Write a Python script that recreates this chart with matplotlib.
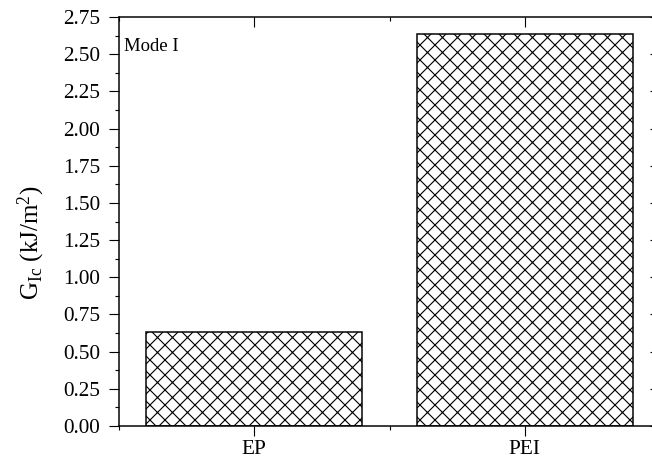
import matplotlib
matplotlib.use("Agg")
import matplotlib.pyplot as plt
from matplotlib.ticker import MultipleLocator, FixedLocator

categories = ["EP", "PEI"]
values = [0.635, 2.635]
y_ticks = [0.00, 0.25, 0.50, 0.75, 1.00, 1.25, 1.50, 1.75, 2.00, 2.25, 2.50, 2.75]

DPI = 90
plt.rcParams['font.family'] = ['Liberation Serif', 'DejaVu Serif']
plt.rcParams['hatch.linewidth'] = 0.9
plt.rcParams['mathtext.fontset'] = 'custom'
plt.rcParams['mathtext.rm'] = 'Liberation Serif'
plt.rcParams['mathtext.it'] = 'Liberation Serif'

fig = plt.figure(figsize=(652 / DPI, 465 / DPI), dpi=DPI)
left, right, bottom, top = 119 / 652, 660 / 652, 1 - 426 / 465, 1 - 17 / 465
ax = fig.add_axes([left, bottom, right - left, top - bottom])

x = [1, 2]
ax.bar(x, values, width=0.8, color='white', edgecolor='black', hatch='xx', linewidth=1.2)

ax.set_xlim(0.5, 2.5)
ax.set_ylim(0, 2.75)
ax.set_xticks(x)
ax.set_xticklabels(categories)
ax.xaxis.set_minor_locator(FixedLocator([0.5, 1.5, 2.5]))
ax.set_yticks(y_ticks)
ax.set_yticklabels([f"{v:.2f}" for v in y_ticks])
ax.yaxis.set_minor_locator(MultipleLocator(0.125))

for s in ax.spines.values():
    s.set_linewidth(1.2)

ax.tick_params(which='major', direction='out', length=8, width=0.9, labelsize=17, pad=7)
ax.tick_params(which='minor', direction='out', length=3.5, width=0.9)
ax.tick_params(which='both', top=True, right=True)
ax.tick_params(axis='x', which='major', pad=3)
# top/right ticks inward
for t in ax.xaxis.get_major_ticks() + ax.xaxis.get_minor_ticks():
    t.tick2line.set_marker(3)
for t in ax.yaxis.get_major_ticks() + ax.yaxis.get_minor_ticks():
    t.tick2line.set_marker(0)

ax.set_ylabel(r"G$_{\mathrm{Ic}}$ (kJ/m$^{2}$)", fontsize=20)
ax.yaxis.set_label_coords(-0.133, 0.447)
ax.text(0.52, 2.55, "Mode I", fontsize=15, ha='left', va='center')

fig.savefig("out.png", dpi=DPI)
